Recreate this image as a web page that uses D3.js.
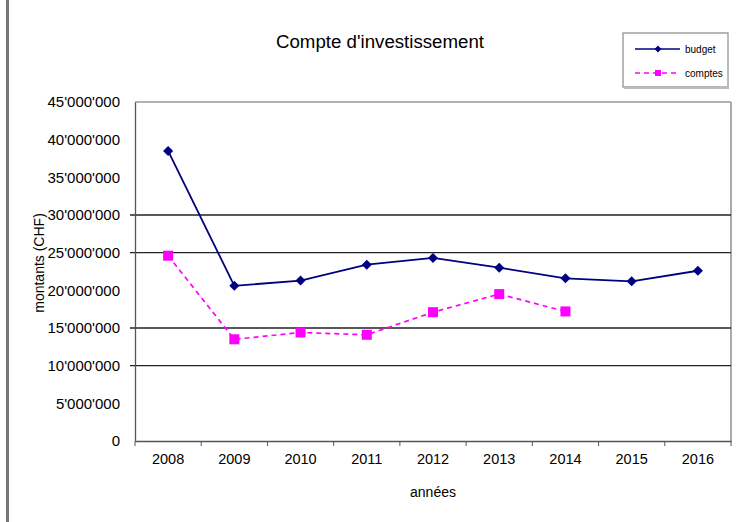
<!DOCTYPE html>
<html>
  <head>
    <title>Compte d'investissement</title>
    <script src="https://d3js.org/d3.v7.min.js"></script>
    <style>
      body { margin: 0; background: #fff; }
      text { font-family: "Liberation Sans", Arial, sans-serif; fill: #000; }
    </style>
  </head>
  <body>
    <div id="chart"></div>

    <script>
      // data
      const years = ["2008", "2009", "2010", "2011", "2012", "2013", "2014", "2015", "2016"];
      const budget = [38.5, 20.6, 21.3, 23.4, 24.3, 23.0, 21.6, 21.2, 22.6];
      const comptes = [24.6, 13.5, 14.4, 14.1, 17.1, 19.5, 17.2, null, null];
      const yTicks = [0, 5, 10, 15, 20, 25, 30, 35, 40, 45];
      const gridValues = [10, 15, 25, 30];

      const width = 750, height = 522;
      const plot = { left: 135, right: 731, top: 102, bottom: 441 };

      const svg = d3.select("#chart").append("svg").attr("width", width).attr("height", height);

      // page border on the left
      svg.append("rect").attr("x", 6).attr("y", 0).attr("width", 3).attr("height", height).attr("fill", "#777");

      const x = d3.scaleBand().domain(years).range([plot.left, plot.right]);
      const y = d3.scaleLinear().domain([0, 45]).range([plot.bottom, plot.top]);

      const fmt = v => v === 0 ? "0" : d3.format(",")(v * 1e6).replace(/,/g, "'");

      // plot frame (top and right in grey)
      svg.append("line").attr("x1", plot.left).attr("x2", plot.right).attr("y1", plot.top).attr("y2", plot.top)
        .attr("stroke", "#999").attr("stroke-width", 1.5);
      svg.append("line").attr("x1", plot.right).attr("x2", plot.right).attr("y1", plot.top).attr("y2", plot.bottom)
        .attr("stroke", "#aaa").attr("stroke-width", 2);

      // grid lines
      svg.append("g").selectAll("line").data(gridValues).enter().append("line")
        .attr("x1", plot.left - 5).attr("x2", plot.right)
        .attr("y1", d => y(d)).attr("y2", d => y(d))
        .attr("stroke", "#222").attr("stroke-width", 1.3);

      // y axis
      const yAxis = svg.append("g").attr("transform", `translate(${plot.left},0)`)
        .call(d3.axisLeft(y).tickValues(yTicks).tickFormat(fmt).tickSize(0).tickPadding(15));
      yAxis.select(".domain").attr("stroke", "#555").attr("stroke-width", 1.3);
      yAxis.selectAll("text").style("font-size", "15px").attr("font-family", null);

      // x axis
      const xAxis = svg.append("g").attr("transform", `translate(0,${plot.bottom})`)
        .call(d3.axisBottom(x).tickSize(0).tickPadding(13));
      xAxis.select(".domain").attr("stroke", "#555").attr("stroke-width", 1.3);
      xAxis.selectAll("text").style("font-size", "14.5px").attr("font-family", null);
      xAxis.selectAll(".sep").data(years.concat([""])).enter().append("line")
        .attr("class", "sep")
        .attr("x1", (d, i) => plot.left + i * x.bandwidth()).attr("x2", (d, i) => plot.left + i * x.bandwidth())
        .attr("y1", 0).attr("y2", 5).attr("stroke", "#555");

      // titles
      svg.append("text").attr("x", 380).attr("y", 48).attr("text-anchor", "middle")
        .style("font-size", "18px").attr("textLength", 208).attr("lengthAdjust", "spacingAndGlyphs")
        .text("Compte d'investissement");
      svg.append("text").attr("x", 433).attr("y", 497).attr("text-anchor", "middle")
        .style("font-size", "14px").text("années");
      svg.append("text").attr("transform", "translate(44,263) rotate(-90)").attr("text-anchor", "middle")
        .style("font-size", "14px").text("montants (CHF)");

      const cx = d => x(d) + x.bandwidth() / 2;

      // budget line
      const line = d3.line().defined(d => d[1] != null).x(d => cx(d[0])).y(d => y(d[1]));
      svg.append("path").datum(years.map((yr, i) => [yr, budget[i]]))
        .attr("d", line).attr("fill", "none").attr("stroke", "#000080").attr("stroke-width", 1.8);
      svg.append("g").selectAll("path").data(years.map((yr, i) => [yr, budget[i]])).enter().append("path")
        .attr("d", d3.symbol().type(d3.symbolDiamond2).size(65))
        .attr("transform", d => `translate(${cx(d[0])},${y(d[1])})`)
        .attr("fill", "#000080");

      // comptes line
      const compData = years.map((yr, i) => [yr, comptes[i]]).filter(d => d[1] != null);
      svg.append("path").datum(compData)
        .attr("d", line).attr("fill", "none").attr("stroke", "#ff00ff").attr("stroke-width", 1.7)
        .attr("stroke-dasharray", "5,4");
      svg.append("g").selectAll("rect").data(compData).enter().append("rect")
        .attr("x", d => cx(d[0]) - 5).attr("y", d => y(d[1]) - 5)
        .attr("width", 10).attr("height", 10).attr("fill", "#ff00ff");

      // legend
      const legend = svg.append("g").attr("transform", "translate(623,33)");
      legend.append("rect").attr("x", 0).attr("y", 0).attr("width", 105).attr("height", 54)
        .attr("fill", "#fff").attr("stroke", "#888").attr("stroke-width", 1.2);
      legend.append("line").attr("x1", 105).attr("x2", 105).attr("y1", 1).attr("y2", 55).attr("stroke", "#bbb").attr("stroke-width", 2);
      legend.append("line").attr("x1", 1).attr("x2", 106).attr("y1", 55).attr("y2", 55).attr("stroke", "#bbb").attr("stroke-width", 2);

      legend.append("line").attr("x1", 12).attr("x2", 57).attr("y1", 16).attr("y2", 16)
        .attr("stroke", "#000080").attr("stroke-width", 1.5);
      legend.append("path").attr("d", d3.symbol().type(d3.symbolDiamond2).size(30))
        .attr("transform", "translate(35,16)").attr("fill", "#000080");
      legend.append("text").attr("x", 62).attr("y", 20).style("font-size", "10px").text("budget");

      legend.append("line").attr("x1", 12).attr("x2", 57).attr("y1", 40).attr("y2", 40)
        .attr("stroke", "#ff00ff").attr("stroke-width", 1.5).attr("stroke-dasharray", "5,4");
      legend.append("rect").attr("x", 32).attr("y", 37).attr("width", 6).attr("height", 6).attr("fill", "#ff00ff");
      legend.append("text").attr("x", 62).attr("y", 44).style("font-size", "10px").text("comptes");
    </script>
  </body>
</html>
